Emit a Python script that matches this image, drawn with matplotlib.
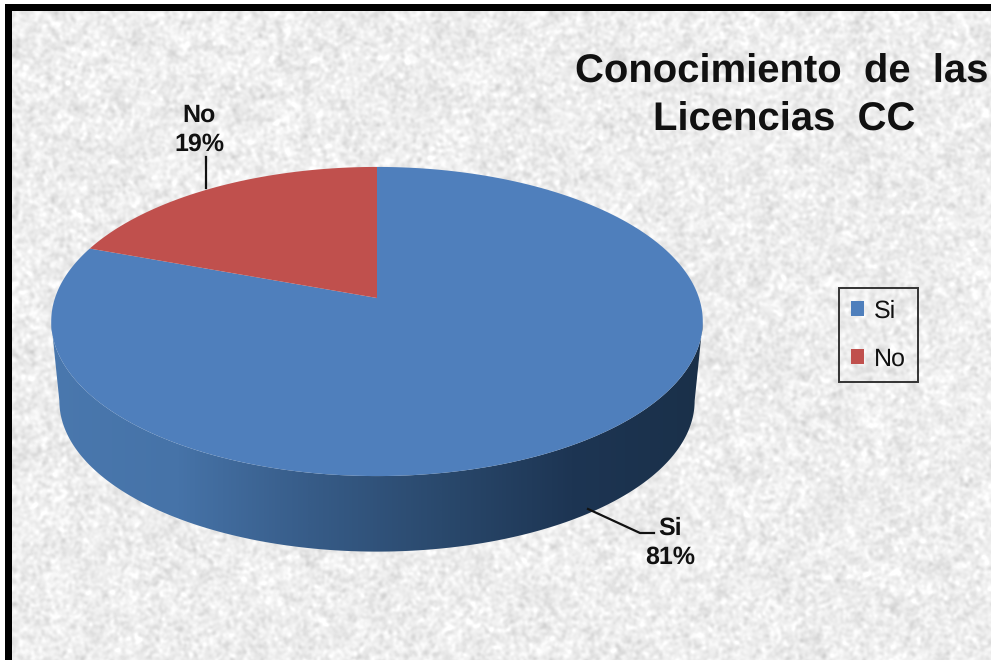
import numpy as np
import matplotlib
matplotlib.use("Agg")
import matplotlib.pyplot as plt
from matplotlib.colors import LinearSegmentedColormap
from matplotlib.patches import Patch, Polygon, Rectangle

plt.rcParams['font.family'] = ['Liberation Sans', 'DejaVu Sans']
plt.rcParams['text.hinting'] = 'no_hinting'
plt.rcParams['text.hinting_factor'] = 1

# Data
categories = ["Si", "No"]
values = [80.6, 19.4]
colors = ["#4f7fbc", "#c0504d"]
title_lines = ["Conocimiento  de  las", "Licencias  CC"]

# Pie geometry in pixels (perspective ellipse)
cx = 377
top_apex = 298
depth_apex = 378
rx = 322
ry = 151
persp = 0.152


def project(theta, y0, scale=1.0):
    # theta is clockwise from 12 o'clock, circle mapped with a perspective divide
    u = np.sin(theta)
    v = np.cos(theta)
    w = 1 + persp * v
    return cx + scale * rx * u / w, y0 - scale * ry * v / w


fig = plt.figure(figsize=(9.91, 6.6), dpi=100, facecolor="white")
ax = fig.add_axes([0, 0, 1, 1])
ax.set_xlim(0, 991)
ax.set_ylim(660, 0)
ax.axis("off")

# Paper texture for the background
rng = np.random.default_rng(7)
h, w = 650, 979
noise = rng.normal(size=(h, w))
fy = np.fft.fftfreq(h)[:, None]
fx = np.fft.fftfreq(w)[None, :]
fine = np.fft.ifft2(np.fft.fft2(noise) * np.exp(-(fx**2 + fy**2) * 2 * 1.6**2 * np.pi**2)).real
broad = np.fft.ifft2(np.fft.fft2(rng.normal(size=(h, w))) * np.exp(-(fx**2 + fy**2) * 2 * 8.0**2 * np.pi**2)).real
tex = 0.93 + 0.027 * fine / fine.std() + 0.007 * broad / broad.std()
ax.imshow(np.clip(tex, 0, 1), cmap="gray", vmin=0, vmax=1, extent=(12, 991, 660, 10),
          interpolation="bilinear", aspect="auto", zorder=0)
ax.set_xlim(0, 991)
ax.set_ylim(660, 0)

# Frame, only top and left
ax.add_patch(Rectangle((5, 4), 986, 6.5, fc="black", ec="none", zorder=1))
ax.add_patch(Rectangle((5, 4), 7, 656, fc="black", ec="none", zorder=1))

# Side wall with a horizontal gradient, between the widest points of both rims
t0 = np.arccos(-persp)
t = np.linspace(t0, 2 * np.pi - t0, 300)
xt, yt = project(t, top_apex)
xb, yb = project(t, depth_apex, 0.975)
side = Polygon(np.r_[np.c_[xt, yt], np.c_[xb, yb][::-1]], fc="none", ec="none", zorder=2)
ax.add_patch(side)
side_cmap = LinearSegmentedColormap.from_list(
    "side", ["#1a3049", "#1d3553", "#2a496d", "#375c88", "#4673a8", "#4a78ae"])
grad = np.linspace(1, 0, 600)[None, :]
im = ax.imshow(grad, cmap=side_cmap, extent=(45, 705, 560, 310), aspect="auto", zorder=2)
im.set_clip_path(side)
ax.set_xlim(0, 991)
ax.set_ylim(660, 0)

# Top surface, slices run clockwise from 12 o'clock
fractions = np.array(values) / sum(values)
start = 0.0
for frac, col in zip(fractions, colors):
    th = np.linspace(start, start + frac * 2 * np.pi, 300)
    x, y = project(th, top_apex)
    ax.fill(np.r_[cx, x], np.r_[top_apex, y], color=col, lw=0, zorder=3)
    start += frac * 2 * np.pi

# Data labels with leader lines
ax.plot([206, 206], [157, 188], color="#111111", lw=1.6, zorder=4)
ax.plot([588, 640, 654], [509, 533, 533], color="#111111", lw=1.6, zorder=4)
ax.text(199, 130, f"{categories[1]}\n{values[1]:.0f}%", ha="center", va="center", fontsize=18,
        fontweight="bold", color="#111111", linespacing=1.3)
ax.text(670, 543, f"{categories[0]}\n{values[0]:.0f}%", ha="center", va="center", fontsize=18,
        fontweight="bold", color="#111111", linespacing=1.3)

# Title
ax.text(782, 72, title_lines[0], ha="center", va="center", fontsize=28.7, fontweight="bold",
        color="#111111")
ax.text(784, 120, title_lines[1], ha="center", va="center", fontsize=28.7, fontweight="bold",
        color="#111111")

# Legend
handles = [Patch(fc=c, ec="none") for c in colors]
leg = ax.legend(handles, categories, loc="upper left", bbox_to_anchor=(839 / 991, 1 - 288 / 660),
                bbox_transform=ax.transAxes, fontsize=18, frameon=True, fancybox=False,
                edgecolor="#333333", facecolor="none", handlelength=0.55,
                handleheight=0.55, handletextpad=0.4, labelspacing=0.98, borderpad=0.46,
                borderaxespad=0)
leg.get_frame().set_linewidth(1.4)
leg.get_frame().set_alpha(None)
for txt in leg.get_texts():
    txt.set_color("#111111")

fig.savefig("out.png", dpi=100)
